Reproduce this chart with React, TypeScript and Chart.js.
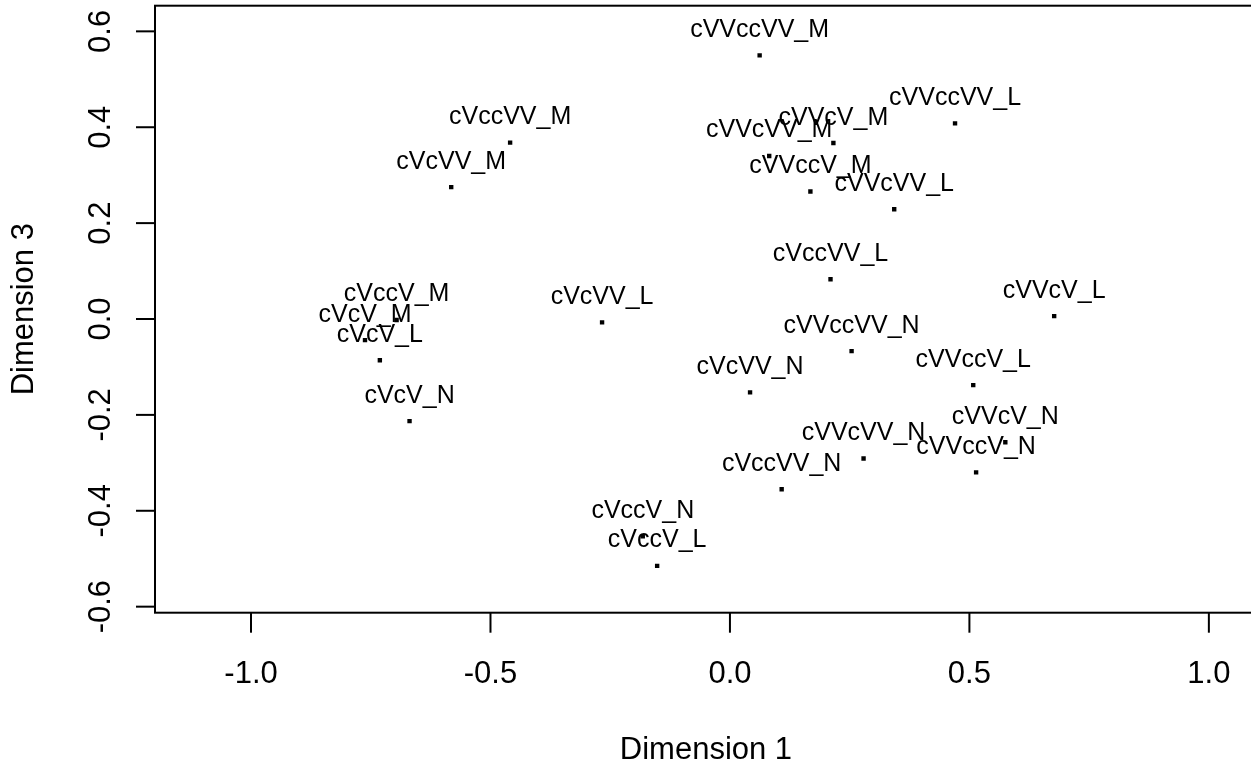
import React, { useEffect, useRef } from "react";
import { Chart, registerables } from "chart.js";

Chart.register(...registerables);

const FONT = '"Liberation Sans", Arial, sans-serif';

const pointLabels = [
  "cVccV_M", "cVcV_M", "cVcV_L", "cVcV_N", "cVcVV_L", "cVccVV_M", "cVcVV_M",
  "cVVccVV_M", "cVVccVV_L", "cVVcV_M", "cVVcVV_M", "cVVccV_M", "cVVcVV_L",
  "cVccVV_L", "cVVcV_L", "cVVccVV_N", "cVcVV_N", "cVVccV_L", "cVVcV_N",
  "cVVcVV_N", "cVVccV_N", "cVccVV_N", "cVccV_N", "cVccV_L",
];
const dim1 = [
  -0.696, -0.762, -0.731, -0.669, -0.267, -0.459, -0.582,
  0.062, 0.470, 0.216, 0.082, 0.168, 0.343,
  0.210, 0.677, 0.254, 0.042, 0.508, 0.575,
  0.279, 0.514, 0.108, -0.182, -0.152,
];
const dim3 = [
  -0.002, -0.044, -0.086, -0.213, -0.007, 0.368, 0.275,
  0.550, 0.408, 0.367, 0.340, 0.266, 0.229,
  0.083, 0.006, -0.067, -0.153, -0.138, -0.257,
  -0.291, -0.320, -0.355, -0.453, -0.515,
];
const xTicks = [-1.0, -0.5, 0.0, 0.5, 1.0];
const xTickLabels = ["-1.0", "-0.5", "0.0", "0.5", "1.0"];
const yTicks = [-0.6, -0.4, -0.2, 0.0, 0.2, 0.4, 0.6];
const yTickLabels = ["-0.6", "-0.4", "-0.2", "0.0", "0.2", "0.4", "0.6"];
const xTitle = "Dimension 1";
const yTitle = "Dimension 3";

const rStylePlugin = {
  id: "rStyle",
  afterDatasetsDraw(chart: any) {
    const { ctx, chartArea: a, scales } = chart;
    const x = scales.x;
    const y = scales.y;
    ctx.save();
    ctx.fillStyle = "#000";
    ctx.strokeStyle = "#000";

    // point labels (above points)
    ctx.font = `25px ${FONT}`;
    ctx.textAlign = "center";
    ctx.textBaseline = "alphabetic";
    const meta = chart.getDatasetMeta(0);
    meta.data.forEach((pt: any, i: number) => {
      ctx.fillText(pointLabels[i], pt.x, pt.y - 18.5);
    });

    // box
    ctx.lineWidth = 2;
    ctx.strokeRect(a.left, a.top, a.right - a.left, a.bottom - a.top);

    // x axis ticks & labels
    ctx.font = `31px ${FONT}`;
    xTicks.forEach((v, i) => {
      const px = x.getPixelForValue(v);
      ctx.beginPath();
      ctx.moveTo(px, a.bottom);
      ctx.lineTo(px, a.bottom + 20);
      ctx.stroke();
      ctx.fillText(xTickLabels[i], px, 683);
    });

    // y axis ticks & labels (rotated)
    yTicks.forEach((v, i) => {
      const py = y.getPixelForValue(v);
      ctx.beginPath();
      ctx.moveTo(a.left - 19, py);
      ctx.lineTo(a.left, py);
      ctx.stroke();
      ctx.save();
      ctx.translate(110, py);
      ctx.rotate(-Math.PI / 2);
      ctx.fillText(yTickLabels[i], 0, 0);
      ctx.restore();
    });

    // axis titles
    ctx.fillText(xTitle, (a.left + a.right) / 2, 759);
    ctx.save();
    ctx.translate(33, (a.top + a.bottom) / 2);
    ctx.rotate(-Math.PI / 2);
    ctx.fillText(yTitle, 0, 0);
    ctx.restore();

    ctx.restore();
  },
};

export default function App() {
  const canvasRef = useRef<HTMLCanvasElement | null>(null);

  useEffect(() => {
    if (!canvasRef.current) return;
    const points = dim1.map((v, i) => ({ x: v, y: dim3[i] }));
    const chart = new Chart(canvasRef.current, {
      type: "scatter",
      data: {
        datasets: [
          {
            data: points,
            pointStyle: "rect",
            pointRadius: 3.1,
            pointHoverRadius: 3.1,
            backgroundColor: "#000",
            borderWidth: 0,
          },
        ],
      },
      options: {
        animation: false,
        responsive: false,
        devicePixelRatio: 1,
        events: [],
        layout: { padding: { top: 5.7, right: 2, left: 0, bottom: 0 } },
        plugins: {
          legend: { display: false },
          tooltip: { enabled: false },
        },
        scales: {
          x: {
            type: "linear",
            min: -1.2005,
            max: 1.1003,
            grid: { display: false },
            border: { display: false },
            ticks: { display: false },
            afterFit: (s: any) => {
              s.height = 152.3;
            },
          },
          y: {
            type: "linear",
            min: -0.6126,
            max: 0.6535,
            grid: { display: false },
            border: { display: false },
            ticks: { display: false },
            afterFit: (s: any) => {
              s.width = 155;
            },
          },
        },
      },
      plugins: [rStylePlugin],
    });
    return () => chart.destroy();
  }, []);

  return (
    <div
      style={{
        position: "absolute",
        left: 0,
        top: 0,
        width: 1251,
        height: 765,
        overflow: "hidden",
        background: "#fff",
      }}
    >
      <canvas ref={canvasRef} width={1260} height={765} />
    </div>
  );
}
